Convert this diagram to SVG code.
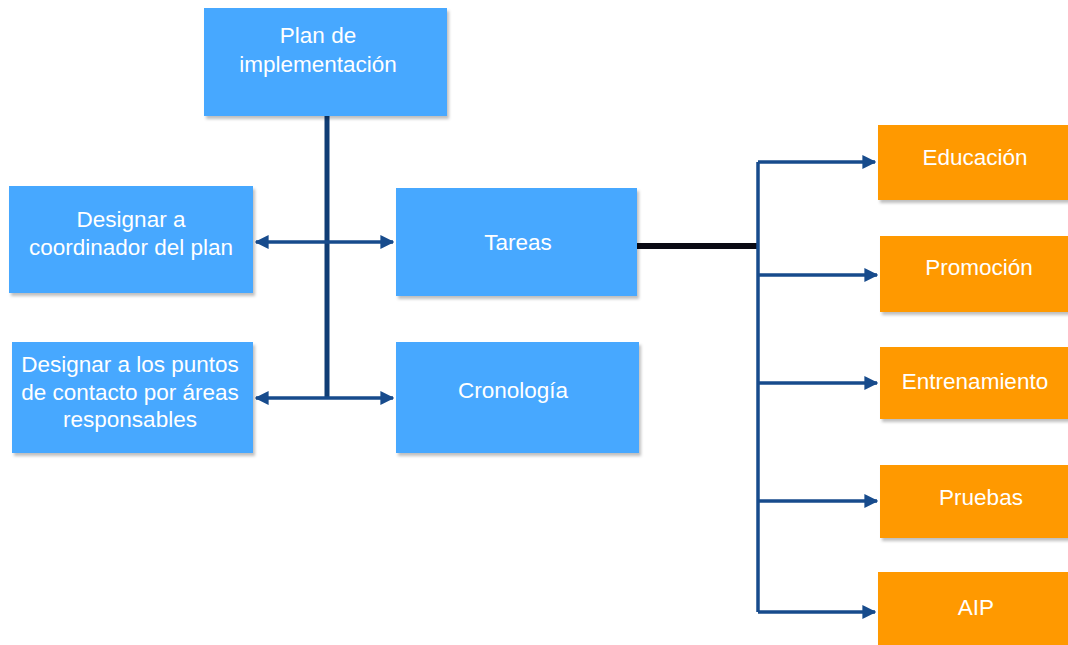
<svg xmlns="http://www.w3.org/2000/svg" width="1068" height="645" viewBox="0 0 1068 645">
  <defs>
    <filter id="shadow" x="-5%" y="-5%" width="115%" height="120%">
      <feDropShadow dx="2" dy="3" stdDeviation="1.5" flood-color="#000" flood-opacity="0.25"/>
    </filter>
    <marker id="arrow" viewBox="0 0 10 10" refX="9" refY="5" markerWidth="4" markerHeight="4" markerUnits="strokeWidth" orient="auto-start-reverse">
      <path d="M0,0 L10,5 L0,10 z" fill="#174b8c"/>
    </marker>
  </defs>
  <style>
    .blue { fill: #47a8ff; filter: url(#shadow); }
    .orange { fill: #ff9900; filter: url(#shadow); }
    .label { font-family: "Liberation Sans", Arial, sans-serif; font-size: 22.5px; fill: #ffffff; text-anchor: middle; }
    .link { fill: none; stroke: #174b8c; stroke-width: 3.5; }
    .trunk { fill: none; stroke: #0f3d75; stroke-width: 5; }
    .thick { fill: none; stroke: #0a0a14; stroke-width: 6; }
  </style>

  <rect width="1068" height="645" fill="#ffffff"/>

  <!-- connectors -->
  <g id="connectors">
    <path class="trunk" d="M327,116 V399"/>
    <path class="link" d="M256,242 H393" marker-start="url(#arrow)" marker-end="url(#arrow)"/>
    <path class="link" d="M256,398 H393" marker-start="url(#arrow)" marker-end="url(#arrow)"/>
    <path class="thick" d="M637,246 H758"/>
    <path class="link" d="M758,162 V612"/>
    <path class="link" d="M758,162 H875" marker-end="url(#arrow)"/>
    <path class="link" d="M758,275 H877" marker-end="url(#arrow)"/>
    <path class="link" d="M758,383 H877" marker-end="url(#arrow)"/>
    <path class="link" d="M758,501 H877" marker-end="url(#arrow)"/>
    <path class="link" d="M758,612 H875" marker-end="url(#arrow)"/>
  </g>

  <g id="plan">
    <rect class="blue" x="204" y="8" width="243" height="108"/>
    <text class="label" x="318" y="43">Plan de</text>
    <text class="label" x="318" y="72">implementación</text>
  </g>

  <g id="coordinador">
    <rect class="blue" x="9" y="186" width="244" height="107"/>
    <text class="label" x="131" y="227">Designar a</text>
    <text class="label" x="131" y="255">coordinador del plan</text>
  </g>

  <g id="puntos">
    <rect class="blue" x="12" y="342" width="241" height="111"/>
    <text class="label" x="130" y="372">Designar a los puntos</text>
    <text class="label" x="130" y="400">de contacto por áreas</text>
    <text class="label" x="130" y="427">responsables</text>
  </g>

  <g id="tareas">
    <rect class="blue" x="396" y="188" width="241" height="108"/>
    <text class="label" x="518" y="250">Tareas</text>
  </g>

  <g id="cronologia">
    <rect class="blue" x="396" y="342" width="243" height="111"/>
    <text class="label" x="513" y="398">Cronología</text>
  </g>

  <g id="educacion">
    <rect class="orange" x="878" y="125" width="195" height="75"/>
    <text class="label" x="975" y="165">Educación</text>
  </g>

  <g id="promocion">
    <rect class="orange" x="880" y="236" width="193" height="76"/>
    <text class="label" x="979" y="275">Promoción</text>
  </g>

  <g id="entrenamiento">
    <rect class="orange" x="880" y="347" width="193" height="72"/>
    <text class="label" x="975" y="389">Entrenamiento</text>
  </g>

  <g id="pruebas">
    <rect class="orange" x="880" y="465" width="193" height="73"/>
    <text class="label" x="981" y="505">Pruebas</text>
  </g>

  <g id="aip">
    <rect class="orange" x="878" y="572" width="195" height="78"/>
    <text class="label" x="976" y="615">AIP</text>
  </g>
</svg>
